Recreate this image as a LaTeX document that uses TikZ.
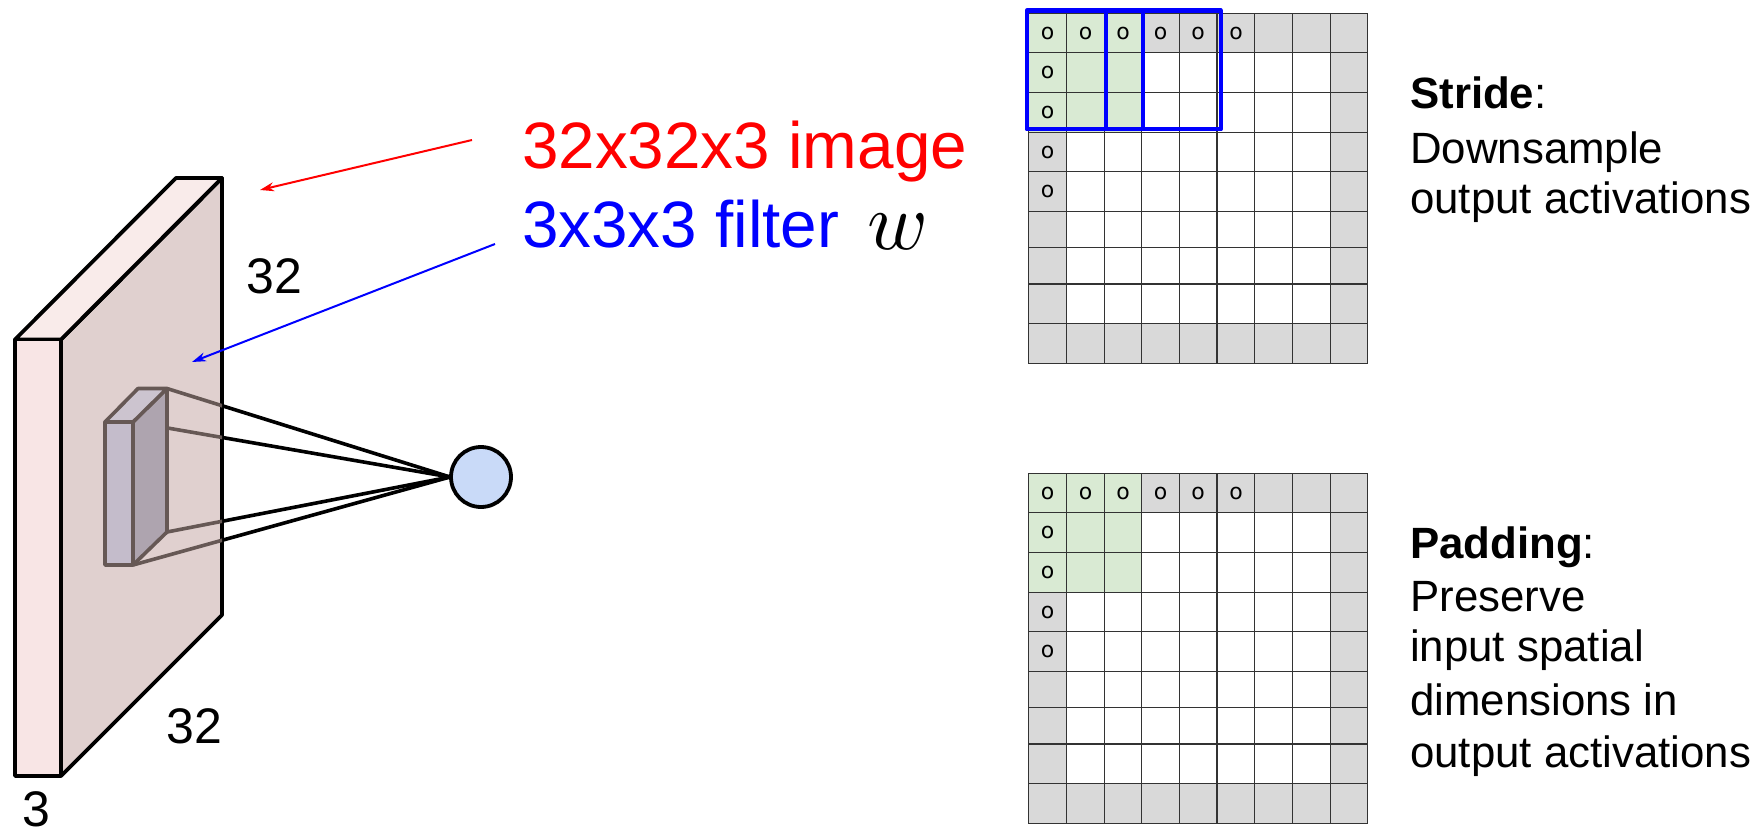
\documentclass[tikz,border=0pt]{standalone}
\usepackage{fontspec}
\setmainfont{Liberation Sans}
\newfontfamily\cellfont{DejaVu Sans}
\usetikzlibrary{arrows.meta}
\definecolor{slabfront}{HTML}{F8E5E5}
\definecolor{slabtop}{HTML}{F9EBEA}
\definecolor{slabside}{HTML}{E0D0CF}
\definecolor{boxfront}{HTML}{C4BCCB}
\definecolor{boxtop}{HTML}{CCC4CF}
\definecolor{boxside}{HTML}{AEA4AF}
\definecolor{boxline}{HTML}{665855}
\definecolor{neuron}{HTML}{C9DAF8}
\definecolor{padgrey}{HTML}{D9D9D9}
\definecolor{filtgreen}{HTML}{D9EAD3}
\definecolor{gridline}{HTML}{333333}
\definecolor{purered}{HTML}{FF0000}
\definecolor{pureblue}{HTML}{0000FF}
\tikzset{
  slabedge/.style={draw=black,line width=3.8pt,line join=round},
  boxedge/.style={draw=boxline,line width=3.6pt,line join=round},
  cone/.style={line width=3.6pt},
  lbl/.style={inner sep=0pt,anchor=base west,font=\fontsize{50}{50}\selectfont},
  bigtxt/.style={inner sep=0pt,anchor=base west,font=\fontsize{65.6}{66}\selectfont},
  sidetxt/.style={inner sep=0pt,anchor=base west,font=\fontsize{43.8}{44}\selectfont},
  zero/.style={inner sep=0pt,anchor=center,font=\cellfont\fontsize{22}{22}\selectfont,text=black},
  gridrule/.style={draw=gridline,line width=1.5pt},
  pointer/.style={line width=2pt,-{Stealth[length=14pt,width=9pt]}},
  strideframe/.style={draw=pureblue,line width=4.4pt,line join=round}
}
\newcommand{\cnnGrid}[1]{%
  \begin{scope}[yshift=-#1pt]
    \fill[padgrey] (1028.3,13.3) rectangle (1367.7,363.3);
    \fill[white] (1066.7,52.7) rectangle (1330.3,323.3);
    \fill[filtgreen] (1028.3,13.3) rectangle (1141.7,132.3);
    \foreach \gx in {1028.3,1066.7,1104.3,1141.7,1179.3,1217,1254.7,1292.3,1330.3,1367.7}
      \draw[gridrule] (\gx,13.3) -- (\gx,363.3);
    \foreach \gy in {13.3,52.7,92.7,132.3,171.7,211.3,247.3,284,323.3,363.3}
      \draw[gridrule] (1028.3,\gy) -- (1367.7,\gy);
    \foreach \gx in {1047.5,1085.5,1123,1160.5,1198,1236}
      \node[zero] at (\gx,33) {o};
    \foreach \gy in {72.7,112.5,152,191.5}
      \node[zero] at (1047.5,\gy) {o};
  \end{scope}}
\begin{document}
\begin{tikzpicture}[x=1pt,y=-1pt]
\useasboundingbox (0,0) rectangle (1757,829);
% slab
\coordinate (fa) at (15,339.5);
\coordinate (fb) at (61,339.5);
\coordinate (fc) at (61,776);
\coordinate (fd) at (15,776);
\coordinate (ba) at (176,178);
\coordinate (bb) at (222,178);
\coordinate (bc) at (222,615);
\filldraw[slabedge,fill=slabside] (fb) -- (bb) -- (bc) -- (fc) -- cycle;
\filldraw[slabedge,fill=slabtop] (fa) -- (ba) -- (bb) -- (fb) -- cycle;
\filldraw[slabedge,fill=slabfront] (fa) -- (fb) -- (fc) -- (fd) -- cycle;
% filter box
\coordinate (pa) at (105,422);
\coordinate (pb) at (133,422);
\coordinate (pc) at (133,565);
\coordinate (pd) at (105,565);
\coordinate (qa) at (138,388.5);
\coordinate (qb) at (167,388.5);
\coordinate (qc) at (167,532);
\node[circle,draw=black,line width=3.8pt,fill=neuron,minimum size=60pt,inner sep=0pt] (unit) at (481,477) {};
\coordinate (apex) at (450,477);
\begin{scope}
  \clip (222,0) rectangle (460,829);
  \foreach \src in {qb,pb,qc,pc}
    \draw[cone,black] (\src) -- (apex);
\end{scope}
\begin{scope}
  \clip (0,0) rectangle (222,829);
  \foreach \src in {qb,pb,qc,pc}
    \draw[cone,boxline] (\src) -- (apex);
\end{scope}
\filldraw[boxedge,fill=boxside] (pb) -- (qb) -- (qc) -- (pc) -- cycle;
\filldraw[boxedge,fill=boxtop] (pa) -- (qa) -- (qb) -- (pb) -- cycle;
\filldraw[boxedge,fill=boxfront] (pa) -- (pb) -- (pc) -- (pd) -- cycle;
% labels
\node[lbl] (l32a) at (246,294) {32};
\node[lbl] (l32b) at (166,743) {32};
\node[lbl] (l3) at (22,826) {3};
\node[bigtxt,text=purered] (imgtxt) at (522,169) {32x32x3 image};
\node[bigtxt,text=pureblue] (filttxt) at (522,248) {3x3x3 filter};
\node[inner sep=0pt,anchor=base west,scale=8.2] (wsym) at (866,250) {$w$};
\coordinate (redstart) at (472,140);
\coordinate (redtip) at (260,190);
\coordinate (bluestart) at (495,244);
\coordinate (bluetip) at (192,362);
\draw[pointer,purered] (redstart) -- (redtip);
\draw[pointer,pureblue] (bluestart) -- (bluetip);
% grids
\cnnGrid{0}
\cnnGrid{460}
\draw[strideframe] (1026.7,10.7) rectangle (1142.7,129.3);
\draw[strideframe] (1105.7,10.7) rectangle (1220.7,129.3);
% side text
\node[sidetxt] (st1) at (1410,109) {\textbf{Stride}:};
\node[sidetxt] (st2) at (1410,164) {Downsample};
\node[sidetxt] (st3) at (1410,214) {output activations};
\node[sidetxt] (pd1) at (1410,558) {\textbf{Padding}:};
\node[sidetxt] (pd2) at (1410,611) {Preserve};
\node[sidetxt] (pd3) at (1410,661) {input spatial};
\node[sidetxt] (pd4) at (1410,715) {dimensions in};
\node[sidetxt] (pd5) at (1410,767) {output activations};
\end{tikzpicture}
\end{document}
